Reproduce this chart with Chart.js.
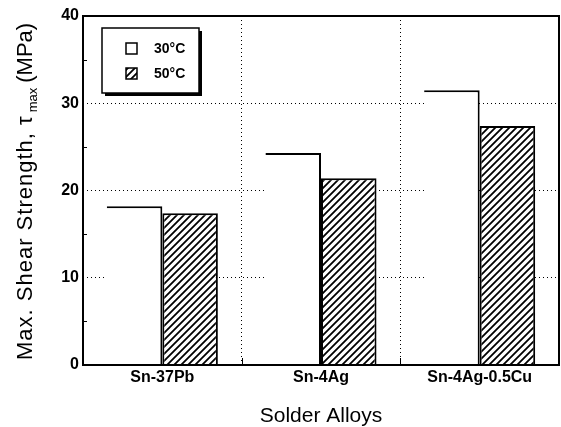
<!DOCTYPE html>
<html>
<head>
<meta charset="utf-8">
<script src="https://cdn.jsdelivr.net/npm/chart.js@4.4.1/dist/chart.umd.min.js"></script>
<style>
html, body { margin: 0; padding: 0; background: #fff; }
#wrap { width: 561px; height: 427px; }
</style>
</head>
<body>
<div id="wrap"><canvas id="shearChart" width="561" height="427"></canvas></div>
<script>
// values (MPa)
const alloys = ['Sn-37Pb', 'Sn-4Ag', 'Sn-4Ag-0.5Cu'];
const tau30 = [18.2, 24.3, 31.5];
const tau50 = [17.4, 21.4, 27.4];
const yTicks = [0, 10, 20, 30, 40];
const minorTicks = [5, 15, 25, 35];
const seriesNames = ['30°C', '50°C'];
const xTitle = 'Solder Alloys';
const yTitle = ['Max. Shear Strength, τ', 'max', '(MPa)'];

const FONT = "'Liberation Sans', Arial, Helvetica, sans-serif";

// diagonal hatch for the 50°C bars
function makeHatch() {
  const s = 7;
  const c = document.createElement('canvas');
  c.width = s; c.height = s;
  const g = c.getContext('2d');
  g.fillStyle = '#fff';
  g.fillRect(0, 0, s, s);
  g.strokeStyle = '#000';
  g.lineWidth = 1.8;
  g.beginPath();
  g.moveTo(-1, s + 1); g.lineTo(s + 1, -1);
  g.moveTo(-1, 1); g.lineTo(1, -1);
  g.moveTo(s - 1, s + 1); g.lineTo(s + 1, s - 1);
  g.stroke();
  return g.createPattern(c, 'repeat');
}
const hatch = makeHatch();

const decor = {
  id: 'decor',
  afterDatasetsDraw(chart) {
    const ctx = chart.ctx;
    const a = chart.chartArea;
    const y = chart.scales.y;
    ctx.save();
    ctx.strokeStyle = '#000';

    // frame
    ctx.lineWidth = 2;
    ctx.strokeRect(a.left, a.top, a.right - a.left, a.bottom - a.top);

    // minor ticks on the left axis
    ctx.lineWidth = 1;
    ctx.beginPath();
    minorTicks.forEach(v => {
      const py = Math.round(y.getPixelForValue(v)) + 0.5;
      ctx.moveTo(a.left, py); ctx.lineTo(a.left + 4, py);
    });
    // small ticks at category boundaries
    const step = (a.right - a.left) / alloys.length;
    for (let i = 1; i < alloys.length; i++) {
      const px = Math.round(a.left + step * i) + 0.5;
      ctx.moveTo(px, a.bottom); ctx.lineTo(px, a.bottom - 7);
    }
    ctx.stroke();

    // legend box with shadow
    const lx = 102, ly = 28, lw = 97, lh = 65;
    ctx.fillStyle = '#000';
    ctx.fillRect(lx + 3, ly + 3, lw, lh);
    ctx.fillStyle = '#fff';
    ctx.fillRect(lx, ly, lw, lh);
    ctx.lineWidth = 1.5;
    ctx.strokeRect(lx, ly, lw, lh);

    const fills = ['#fff', hatch];
    ctx.font = 'bold 14px ' + FONT;
    ctx.textBaseline = 'middle';
    ctx.textAlign = 'left';
    seriesNames.forEach((name, i) => {
      const sy = 43 + i * 25;
      ctx.fillStyle = fills[i];
      ctx.fillRect(126, sy, 11, 11);
      ctx.lineWidth = 1.5;
      ctx.strokeRect(126, sy, 11, 11);
      ctx.fillStyle = '#000';
      ctx.fillText(name, 154, sy + 6);
    });

    // x title
    ctx.font = '21px ' + FONT;
    ctx.textAlign = 'center';
    ctx.textBaseline = 'alphabetic';
    ctx.fillText(xTitle, (a.left + a.right) / 2, 422);

    // y title with subscript, reading upward from y=360
    ctx.translate(32, 360);
    ctx.rotate(-Math.PI / 2);
    ctx.textAlign = 'left';
    const big = '22px ' + FONT, small = '13px ' + FONT;
    let px = 0;
    ctx.font = big;
    ctx.letterSpacing = '1px';
    ctx.fillText(yTitle[0], px, 0);
    px += ctx.measureText(yTitle[0]).width + 3;
    ctx.letterSpacing = '0px';
    ctx.font = small;
    ctx.fillText(yTitle[1], px, 5);
    px += ctx.measureText(yTitle[1]).width + 5;
    ctx.font = big;
    ctx.fillText(yTitle[2], px, 0);

    ctx.restore();
  }
};

const ctx = document.getElementById('shearChart').getContext('2d');

new Chart(ctx, {
  type: 'bar',
  data: {
    labels: alloys,
    datasets: [
      {
        label: seriesNames[0],
        data: tau30,
        backgroundColor: '#fff',
        borderColor: '#000',
        borderWidth: { top: 2, right: 2, left: 0, bottom: 0 },
        borderSkipped: false
      },
      {
        label: seriesNames[1],
        data: tau50,
        backgroundColor: hatch,
        borderColor: '#000',
        borderWidth: 2
      }
    ]
  },
  options: {
    responsive: false,
    animation: false,
    devicePixelRatio: 1,
    layout: { padding: { top: 16, right: 2, left: 0, bottom: 0 } },
    plugins: {
      legend: { display: false },
      tooltip: { enabled: false }
    },
    datasets: {
      bar: { categoryPercentage: 0.7, barPercentage: 1.0 }
    },
    scales: {
      x: {
        grid: {
          offset: true,
          color: '#000',
          lineWidth: 1,
          drawTicks: false
        },
        border: { display: false, dash: [1, 3] },
        ticks: {
          color: '#000',
          padding: 3,
          font: { family: FONT, size: 16, weight: 'bold' }
        },
        afterFit(scale) { scale.height = 62; }
      },
      y: {
        min: 0,
        max: 40,
        afterBuildTicks(scale) {
          scale.ticks = yTicks.map(v => ({ value: v }));
        },
        grid: {
          color: '#000',
          lineWidth: 1,
          drawTicks: false
        },
        border: { display: false, dash: [1, 3] },
        ticks: {
          color: '#000',
          padding: 4,
          font: { family: FONT, size: 16, weight: 'bold' }
        },
        afterFit(scale) { scale.width = 83; }
      }
    }
  },
  plugins: [decor]
});
</script>
</body>
</html>
